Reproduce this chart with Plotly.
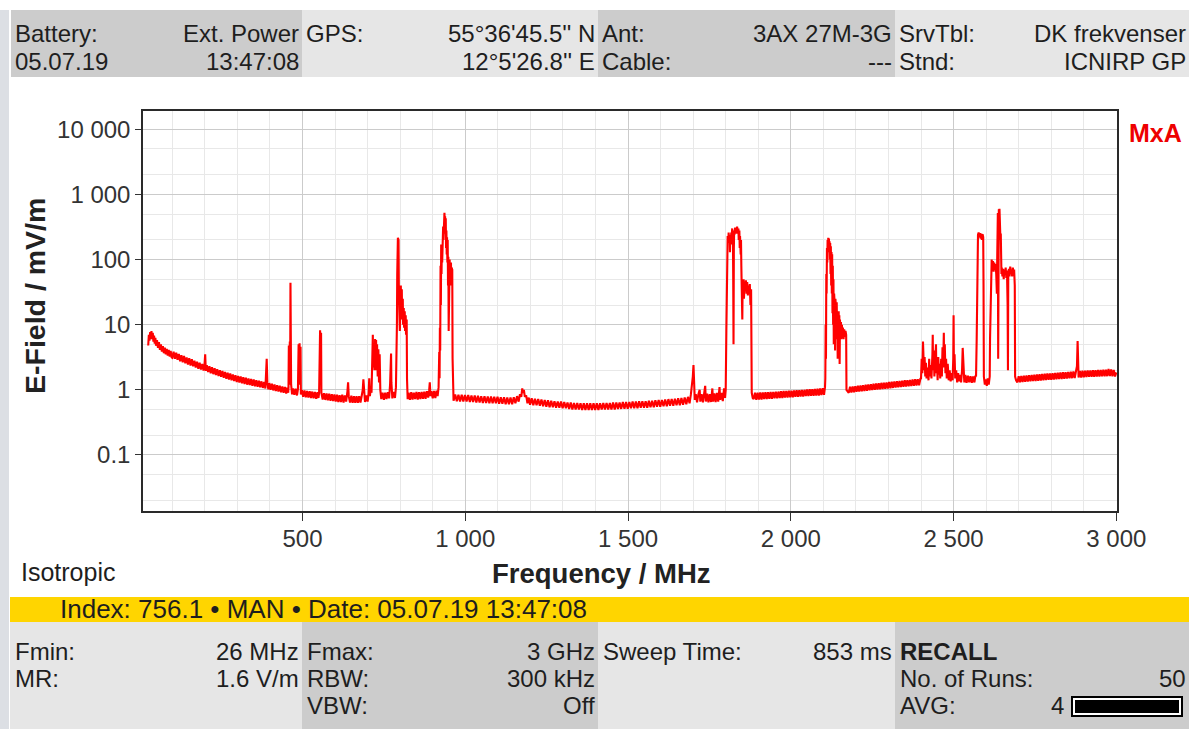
import plotly.graph_objects as go

# ---------------- data ----------------
band_low = [(26,4.8),(28,7.0),(30,5.7),(32,7.7),(34,6.0),(36,8.0),(38,6.0),(40,7.5),(42,5.5),(44,6.8),(46,5.1),(48,6.3),
            (50,4.75),(53,5.8),(56,4.4),(59,5.4),(62,4.1),(65,5.0),(68,3.85),(71,4.7),(74,3.65),(77,4.45),(80,3.5),(83,4.25),
            (86,3.35),(89,4.1),(92,3.25),(95,3.95),(98,3.15),(100,3.1),(104,3.85),(108,3.0),(112,3.7),(116,2.9),(120,3.55),
            (124,2.75),(128,3.4),(132,2.65),(136,3.3),(140,2.55),(144,3.15),(148,2.45),(152,3.05),(156,2.35),(160,2.95),
            (164,2.3),(168,2.8),(172,2.2),(176,2.7),(180,2.1),(184,2.6),(188,2.05),(192,2.5),(196,1.98),(199,2.45),(201,3.5),
            (203,1.95),(206,2.38),(210,1.88),(214,2.3),(218,1.8),(222,2.22),(226,1.74),(230,2.15),(234,1.68),(238,2.08),
            (242,1.63),(246,2.0),(250,1.58),(254,1.95),(258,1.53),(262,1.88),(266,1.48),(270,1.83),(274,1.44),(278,1.78),
            (282,1.4),(286,1.72),(290,1.36),(294,1.68),(298,1.32),(302,1.63),(306,1.29),(310,1.6),(314,1.26),(318,1.56),
            (322,1.23),(326,1.53),(330,1.2),(334,1.5),(338,1.18),(342,1.47),(346,1.15),(350,1.44),(354,1.13),(358,1.41),
            (362,1.11),(366,1.38),(370,1.09),(374,1.35),(378,1.07),(382,1.32),(386,1.05),(388,1.5),(390,3.0),(392,1.3),
            (395,1.02),(398,1.27),(402,1.0),(406,1.24),(410,0.98),(414,1.21),(418,0.96),(422,1.18),(426,0.94),(430,1.16),
            (434,0.92),(438,1.13),(442,0.9),(446,1.11),(450,0.88),(454,1.09)]

band_450_800 = [(456,0.9),(457,1.1),(458,4.8),(459,1.2),(461,5.5),(462,1.6),(463,44),(464,3.0),(465,1.2),(468,0.85),
                (471,1.05),(475,0.84),(479,1.04),(483,0.82),(486,1.02),(488,5.0),(489,1.5),(491,5.2),(492,1.2),(494,4.6),
                (495,0.85),(498,1.0),(502,0.78),(506,0.98),(510,0.77),(514,0.96),(518,0.76),(522,0.95),(526,0.75),(530,0.94),
                (534,0.74),(538,0.93),(542,0.73),(546,0.92),(549,0.75),(551,0.9),(552,7.0),(553,2.5),(554,8.2),(555,3.0),
                (556,6.5),(557,7.5),(558,0.9),(562,0.71),(566,0.89),(570,0.7),(574,0.88),(578,0.69),(582,0.87),(586,0.68),
                (590,0.86),(594,0.67),(598,0.85),(602,0.66),(606,0.84),(610,0.65),(614,0.83),(618,0.65),(622,0.84),(626,0.64),
                (630,0.82),(634,0.66),(638,0.95),(640,1.3),(642,0.8),(646,0.64),(650,0.81),(654,0.63),(658,0.8),(662,0.63),
                (666,0.8),(670,0.63),(674,0.8),(678,0.64),(682,0.82),(685,1.0),(687,1.45),(689,0.8),(692,0.65),(696,0.82),
                (700,0.66),(703,0.88),(705,1.5),(707,0.8),(710,1.1),(712,0.9),(714,3.0),(716,7.0),(717,2.2),(719,4.5),
                (721,2.0),(723,6.0),(724,2.5),(726,5.8),(727,2.0),(729,5.0),(731,1.6),(733,4.2),(735,1.3),(737,3.5),(739,1.0),
                (742,0.72),(746,0.9),(750,0.7),(754,0.9),(758,0.72),(762,0.92),(766,0.74),(769,1.2),(771,3.3),(772,3.6),
                (773,1.3),(776,0.74),(780,0.93),(784,0.75),(787,1.1),(789,3.0)]

band_lte800 = [(790,10),(791,60),(793,215),(794,120),(795,200),(796,30),(797,12),(798,15),(799,8),(801,20),(802,40),(803,14),
               (805,35),(806,12),(808,25),(809,10),(811,18),(812,9),(814,16),(815,8),(817,14),(818,7),(820,12),(821,1.5),
               (823,0.72),(826,0.9),(830,0.7),(834,0.92),(838,0.71),(842,0.9),(846,0.72),(850,0.93),(854,0.71),(858,0.92),
               (862,0.72),(866,0.93),(870,0.73),(874,0.94),(878,0.73),(882,0.95),(886,0.76),(889,0.98),(891,1.3),(893,0.8),
               (896,0.95),(900,0.74),(904,0.96),(908,0.75),(912,0.97),(915,0.8),(918,1.1)]

band_gsm900 = [(920,3.8),(921,1.5),(922,9),(923,4),(924,80),(925,20),(926,170),(927,60),(928,150),(929,90),(930,180),
               (931,110),(932,320),(933,200),(934,480),(935,300),(936,520),(937,380),(938,460),(939,250),(940,430),(941,150),
               (942,280),(943,120),(944,220),(945,90),(946,200),(947,40),(948,110),(949,8),(950,90),(951,60),(952,100),
               (953,45),(954,85),(955,50),(956,90),(957,40),(958,75),(959,55),(960,70),(961,3),(962,0.9)]

band_mid = [(964,0.68),(969,0.85),(974,0.67),(979,0.84),(984,0.66),(989,0.84),(994,0.66),(999,0.83),(1004,0.66),(1009,0.83),
            (1014,0.65),(1019,0.82),(1024,0.65),(1029,0.82),(1034,0.64),(1039,0.81),(1044,0.64),(1049,0.8),(1054,0.63),
            (1059,0.8),(1064,0.63),(1069,0.79),(1074,0.62),(1079,0.79),(1084,0.62),(1089,0.78),(1094,0.62),(1099,0.78),
            (1104,0.61),(1109,0.77),(1114,0.61),(1119,0.77),(1124,0.6),(1129,0.76),(1134,0.6),(1139,0.76),(1144,0.6),
            (1149,0.77),(1154,0.62),(1159,0.8),(1164,0.66),(1168,0.86),(1172,0.78),(1175,1.05),(1177,0.9),(1180,1.0),
            (1183,0.78),(1187,0.82),(1191,0.62),(1195,0.76),(1199,0.59),(1204,0.74),(1209,0.58),(1214,0.73),(1219,0.58),
            (1224,0.72),(1229,0.57),(1234,0.71),(1239,0.56),(1244,0.7),(1249,0.55),(1254,0.69),(1259,0.54),(1264,0.68),
            (1269,0.54),(1274,0.67),(1279,0.53),(1284,0.66),(1289,0.53),(1294,0.66),(1299,0.52),(1304,0.65),(1309,0.52),
            (1314,0.64),(1319,0.51),(1324,0.64),(1329,0.5),(1334,0.63),(1339,0.5),(1344,0.63),(1349,0.5),(1354,0.62),
            (1359,0.49),(1364,0.62),(1369,0.49),(1374,0.62),(1379,0.49),(1384,0.62),(1389,0.49),(1394,0.62),(1399,0.49),
            (1404,0.62),(1409,0.49),(1414,0.62),(1419,0.5),(1424,0.63),(1429,0.5),(1434,0.63),(1439,0.5),(1444,0.63),
            (1449,0.5),(1454,0.64),(1459,0.5),(1464,0.64),(1469,0.51),(1474,0.64),(1479,0.51),(1484,0.65),(1489,0.51),
            (1494,0.65),(1499,0.51),(1504,0.65),(1509,0.52),(1514,0.66),(1519,0.52),(1524,0.66),(1529,0.52),(1534,0.67),
            (1539,0.53),(1544,0.67),(1549,0.53),(1554,0.67),(1559,0.53),(1564,0.68),(1569,0.54),(1574,0.68),(1579,0.54),
            (1584,0.69),(1589,0.55),(1594,0.7),(1599,0.55),(1604,0.7),(1609,0.56),(1614,0.71),(1619,0.56),(1624,0.72),
            (1629,0.57),(1634,0.72),(1639,0.57),(1644,0.73),(1649,0.58),(1654,0.74),(1659,0.58),(1664,0.75),(1669,0.59),
            (1674,0.76),(1679,0.6),(1684,0.78),(1689,0.62),(1693,0.85),(1696,1.1),(1699,1.6),(1701,2.4),(1703,1.2),
            (1705,0.7),(1708,0.86),(1712,0.64),(1716,0.85),(1720,1.0),(1722,0.66),(1726,0.86),(1730,0.64),(1734,0.95),
            (1737,1.15),(1739,0.66),(1743,0.87),(1747,0.64),(1751,0.86),(1755,0.65),(1759,1.05),(1761,0.66),(1765,0.88),
            (1769,0.65),(1773,0.9),(1777,0.66),(1781,1.1),(1783,0.7),(1787,0.9),(1791,0.67),(1795,1.05),(1798,0.75)]

band_dcs1800 = [(1800,1.0),(1802,8),(1803,40),(1804,12),(1805,150),(1806,230),(1808,180),(1809,260),(1810,200),(1812,240),
                (1813,130),(1814,220),(1816,170),(1817,260),(1818,220),(1820,300),(1821,250),(1822,280),(1823,60),(1824,5),
                (1825,150),(1826,280),(1827,240),(1829,310),(1830,260),(1832,300),(1834,250),(1835,320),(1837,270),(1839,300),
                (1840,200),(1842,280),(1843,150),(1844,230),(1846,120),(1847,200),(1848,80),(1849,15),(1850,30),(1851,12),
                (1852,45),(1853,30),(1855,50),(1856,25),(1858,42),(1860,35),(1862,48),(1864,30),(1866,45),(1868,28),(1870,40),
                (1872,32),(1874,42),(1876,20),(1878,35),(1879,10),(1880,0.9),(1883,0.75)]

band_2000 = [(1886,0.72),(1890,0.9),(1894,0.7),(1898,0.9),(1902,0.71),(1906,0.91),(1910,0.71),(1914,0.91),(1918,0.72),
             (1922,0.92),(1926,0.72),(1930,0.92),(1934,0.73),(1938,0.93),(1942,0.73),(1946,0.93),(1950,0.74),(1954,0.94),
             (1958,0.74),(1962,0.94),(1966,0.75),(1970,0.95),(1974,0.75),(1978,0.96),(1982,0.76),(1986,0.96),(1990,0.76),
             (1994,0.97),(1998,0.77),(2002,0.97),(2006,0.77),(2010,0.98),(2014,0.78),(2018,0.99),(2022,0.78),(2026,0.99),
             (2030,0.79),(2034,1.0),(2038,0.79),(2042,1.0),(2046,0.8),(2050,1.01),(2054,0.8),(2058,1.02),(2062,0.81),
             (2066,1.02),(2070,0.81),(2074,1.03),(2078,0.82),(2082,1.04),(2086,0.82),(2090,1.05),(2094,0.83),(2098,1.06),
             (2102,0.84),(2105,1.1)]

band_umts2100 = [(2106,1.5),(2107,10),(2108,3),(2109,60),(2110,30),(2111,150),(2112,90),(2113,200),(2114,130),(2115,215),
                 (2116,160),(2117,210),(2118,140),(2119,190),(2120,100),(2121,180),(2122,60),(2123,160),(2124,40),(2125,130),
                 (2126,30),(2127,120),(2128,15),(2129,80),(2130,10),(2131,50),(2132,5),(2133,30),(2134,8),(2135,20),(2136,4),
                 (2137,25),(2138,10),(2139,18),(2140,6),(2141,22),(2142,9),(2143,15),(2144,3),(2145,12),(2146,8),(2147,16),
                 (2148,7),(2149,14),(2150,2.5),(2151,12),(2152,8),(2154,11),(2155,6),(2157,10),(2158,7),(2160,9),(2162,6),
                 (2164,8.5),(2166,6.5),(2168,8),(2170,7),(2171,1.0),(2174,0.95)]

band_2300 = [(2178,0.9),(2182,1.12),(2186,0.91),(2190,1.13),(2194,0.92),(2198,1.14),(2202,0.93),(2206,1.16),(2210,0.94),
             (2214,1.17),(2218,0.95),(2222,1.18),(2226,0.96),(2230,1.2),(2234,0.97),(2238,1.21),(2242,0.98),(2246,1.22),
             (2250,0.99),(2254,1.24),(2258,1.0),(2262,1.25),(2266,1.01),(2270,1.26),(2274,1.02),(2278,1.28),(2282,1.03),
             (2286,1.29),(2290,1.04),(2294,1.3),(2298,1.05),(2302,1.32),(2306,1.06),(2310,1.33),(2314,1.07),(2318,1.34),
             (2322,1.08),(2326,1.36),(2330,1.09),(2334,1.37),(2338,1.1),(2342,1.38),(2346,1.11),(2350,1.4),(2354,1.12),
             (2358,1.41),(2362,1.13),(2366,1.42),(2370,1.14),(2374,1.44),(2378,1.15),(2382,1.45),(2386,1.16),(2390,1.46),
             (2394,1.17),(2398,1.48)]

band_wifi = [(2400,1.5),(2402,3.0),(2404,1.8),(2406,5.5),(2407,2.5),(2408,5.0),(2409,2.0),(2411,3.2),(2413,1.6),(2415,2.6),
             (2417,1.5),(2420,2.2),(2423,1.4),(2425,3.0),(2427,1.6),(2430,2.4),(2432,1.5),(2435,3.5),(2436,7.0),(2437,2.0),
             (2439,4.0),(2441,1.6),(2443,3.0),(2446,5.0),(2447,1.8),(2449,2.6),(2451,1.4),(2453,3.2),(2455,1.7),(2457,2.5),
             (2459,1.5),(2462,3.0),(2464,1.6),(2466,4.5),(2468,2.2),(2470,7.5),(2471,2.5),(2473,5.0),(2475,1.8),(2477,3.0),
             (2479,1.5),(2482,2.5),(2485,1.4),(2488,2.0),(2491,1.35),(2494,1.8),(2497,1.4),(2499,3.0),(2500,14),(2501,2.0),
             (2503,3.5),(2505,1.5),(2508,2.0),(2511,1.3),(2514,1.8),(2517,1.35),(2520,1.7),(2523,1.3),(2526,2.0),(2528,4.4),
             (2530,1.8),(2533,1.3),(2536,1.7),(2540,1.28),(2544,1.65),(2548,1.3),(2552,1.62),(2556,1.28),(2560,1.6),
             (2564,1.3),(2567,1.65)]

band_lte2600 = [(2569,1.6),(2571,6),(2572,18),(2573,60),(2574,180),(2575,240),(2577,260),(2579,220),(2581,255),(2583,210),
                (2585,250),(2587,200),(2589,245),(2591,220),(2592,40),(2593,1.6),(2596,1.2),(2599,1.45),(2602,1.15),
                (2605,1.5),(2608,1.2),(2611,1.6),(2612,6),(2613,12),(2614,40),(2615,80),(2617,100),(2619,75),(2621,95),
                (2623,65),(2625,90),(2627,70),(2629,85),(2631,60),(2633,30),(2634,100),(2635,300),(2636,520),(2637,3),
                (2638,400),(2639,590),(2640,450),(2641,600),(2642,350),(2643,520),(2644,200),(2645,250),(2646,100),
                (2647,60),(2648,75),(2650,55),(2652,72),(2654,50),(2656,70),(2658,58),(2660,75),(2662,52),(2664,68),
                (2666,20),(2667,2.0),(2668,60),(2670,72),(2672,55),(2674,78),(2676,60),(2678,70),(2680,55),(2682,75),
                (2684,62),(2686,70),(2688,40),(2689,1.6),(2692,1.4)]

band_high = [(2696,1.3),(2700,1.62),(2704,1.31),(2708,1.63),(2712,1.32),(2716,1.65),(2720,1.33),(2724,1.66),(2728,1.34),
             (2732,1.68),(2736,1.35),(2740,1.69),(2744,1.36),(2748,1.7),(2752,1.37),(2756,1.72),(2760,1.38),(2764,1.73),
             (2768,1.39),(2772,1.75),(2776,1.4),(2780,1.76),(2784,1.41),(2788,1.78),(2792,1.42),(2796,1.79),(2800,1.43),
             (2804,1.8),(2808,1.44),(2812,1.82),(2816,1.45),(2820,1.83),(2824,1.46),(2828,1.85),(2832,1.47),(2836,1.86),
             (2840,1.48),(2844,1.87),(2848,1.49),(2852,1.88),(2856,1.5),(2860,1.9),(2864,1.51),(2868,1.91),(2872,1.52),
             (2876,1.93),(2879,2.3),(2881,5.6),(2882,2.6),(2884,1.55),(2888,1.95),(2892,1.55),(2896,1.96),(2900,1.56),
             (2904,1.97),(2908,1.57),(2912,1.98),(2916,1.58),(2920,1.99),(2924,1.58),(2928,2.0),(2932,1.59),(2936,2.0),
             (2940,1.6),(2944,2.01),(2948,1.6),(2952,2.02),(2956,1.61),(2960,2.03),(2964,1.61),(2968,2.04),(2972,1.62),
             (2976,2.1),(2980,1.63),(2984,2.05),(2988,1.62),(2992,2.02),(2996,1.6),(3000,1.85)]

x_tickvals = [500, 1000, 1500, 2000, 2500, 3000]
x_ticktext = ["500", "1 000", "1 500", "2 000", "2 500", "3 000"]
y_tickvals = [0.1, 1, 10, 100, 1000, 10000]
y_ticktext = ["0.1", "1", "10", "100", "1 000", "10 000"]

header_cells = [
    ("Battery:", "Ext. Power", "05.07.19", "13:47:08"),
    ("GPS:", "55°36'45.5'' N", "", "12°5'26.8'' E"),
    ("Ant:", "3AX 27M-3G", "Cable:", "---"),
    ("SrvTbl:", "DK frekvenser", "Stnd:", "ICNIRP GP"),
]
footer_cells = [
    [("Fmin:", "26 MHz"), ("MR:", "1.6 V/m"), ("", "")],
    [("Fmax:", "3 GHz"), ("RBW:", "300 kHz"), ("VBW:", "Off")],
    [("Sweep Time:", "853 ms"), ("", ""), ("", "")],
    [("RECALL", ""), ("No. of Runs:", "50"), ("AVG:", "4")],
]
status_text = "Index: 756.1 • MAN • Date: 05.07.19 13:47:08"

# ---------------- figure ----------------
W, H = 1189, 729
FONT = "Liberation Sans, Arial, sans-serif"
DARK = "#cccccc"
LIGHT = "#e6e6e6"
TXT = 24

segments = [band_low, band_450_800, band_lte800, band_gsm900, band_mid, band_dcs1800,
            band_2000, band_umts2100, band_2300, band_wifi, band_lte2600, band_high]
freq = [p[0] for s in segments for p in s]
efield = [p[1] for s in segments for p in s]

fig = go.Figure()
fig.add_trace(go.Scatter(x=freq, y=efield, mode="lines",
                         line=dict(color="#ff0000", width=2.1), hoverinfo="skip"))

def px(x):
    return x / W

def py(y):
    return 1 - y / H

shapes = []
annotations = []

def rect(x0, y0, x1, y1, fill):
    shapes.append(dict(type="rect", xref="paper", yref="paper", x0=px(x0), x1=px(x1),
                       y0=py(y1), y1=py(y0), fillcolor=fill,
                       line=dict(width=0), layer="below"))

def txt(x, y, s, anchor="left", size=TXT, bold=False, color="#1e1e1e"):
    if bold:
        s = "<b>" + s + "</b>"
    annotations.append(dict(x=px(x), y=py(y), xref="paper", yref="paper", text=s, showarrow=False,
                            xanchor=anchor, yanchor="middle",
                            font=dict(family=FONT, size=size, color=color)))

# left strip
rect(0, 10, 9, 729, "#dcdfe4")

# header
col_x = [11, 302, 598, 895, 1189]
col_fill = [DARK, LIGHT, DARK, LIGHT]
for i, (l1, r1, l2, r2) in enumerate(header_cells):
    x0, x1 = col_x[i], col_x[i + 1]
    rect(x0, 10, x1, 77, col_fill[i])
    txt(x0 + 2, 33, l1)
    txt(x1 - 1, 33, r1, anchor="right")
    txt(x0 + 2, 61, l2)
    txt(x1 - 1, 61, r2, anchor="right")

# status bar
rect(10, 597, 1189, 622, "#ffd500")
txt(589, 609, status_text, anchor="right", size=26)

# footer
fcol_x = [10, 302, 598, 895, 1189]
fcol_fill = [LIGHT, DARK, LIGHT, DARK]
row_y = [651, 678, 705]
for i, cells in enumerate(footer_cells):
    x0, x1 = fcol_x[i], fcol_x[i + 1]
    rect(x0, 622, x1, 729, fcol_fill[i])
    for j, (lab, val) in enumerate(cells):
        if lab == "RECALL":
            txt(x0 + 3, row_y[j], lab, bold=True)
            continue
        if lab:
            txt(x0 + 3, row_y[j], lab)
        if val:
            xr = x1 - 1
            if lab == "AVG:":
                xr = 1066
            txt(xr, row_y[j], val, anchor="right")

# AVG bar
rect(1071, 696, 1183, 717, "#000000")
rect(1073, 698, 1181, 715, "#ffffff")
rect(1075, 700, 1179, 713, "#000000")

# chart texts
txt(35, 296, "E-Field / mV/m", anchor="center", size=28.5, bold=True, color="#222222")
annotations[-1]["textangle"] = -90
txt(601, 573, "Frequency / MHz", anchor="center", size=27.5, bold=True, color="#222222")
txt(19, 572, "Isotropic", size=25)
txt(1127, 133, "MxA", size=25, bold=True, color="#ee0000")

x_minor = [v for v in range(100, 3000, 100) if v % 500 != 0]
y_minor = [0.02, 0.05, 0.2, 0.5, 2, 5, 20, 50, 200, 500, 2000, 5000]

fig.update_layout(
    autosize=True, height=H,
    margin=dict(l=0, r=0, t=0, b=0, autoexpand=False),
    paper_bgcolor="white", plot_bgcolor="white",
    showlegend=False,
    shapes=shapes, annotations=annotations,
    xaxis=dict(domain=[143 / W, 1117 / W], range=[10, 3002],
               tickmode="array", tickvals=x_tickvals, ticktext=x_ticktext,
               ticks="outside", ticklen=8, tickcolor="#333", tickwidth=1,
               showline=True, mirror=True, linecolor="#2a2a2a", linewidth=1.5,
               showgrid=True, gridcolor="#cbcbcb", gridwidth=1, zeroline=False,
               minor=dict(tickvals=x_minor, showgrid=True, gridcolor="#e8e8e8", gridwidth=1, ticks=""),
               tickfont=dict(family=FONT, size=24, color="#333333"), ticklabelstandoff=-3),
    yaxis=dict(domain=[py(511), py(111)], type="log", range=[-1.86, 4.28],
               tickmode="array", tickvals=y_tickvals, ticktext=y_ticktext,
               ticks="outside", ticklen=6, tickcolor="#333", tickwidth=1,
               showline=True, mirror=True, linecolor="#2a2a2a", linewidth=1.5,
               showgrid=True, gridcolor="#cbcbcb", gridwidth=1, zeroline=False,
               minor=dict(tickvals=y_minor, showgrid=True, gridcolor="#e8e8e8", gridwidth=1, ticks=""),
               tickfont=dict(family=FONT, size=24, color="#333333")),
)

post = (
    "document.body.style.margin='0';"
    "document.body.style.overflow='hidden';"
    "var gd=document.getElementById('{plot_id}');"
    "Plotly.relayout(gd,{width:document.documentElement.clientWidth,height:%d});" % H
)

fig.write_html("out.html",
               config={"displayModeBar": False, "responsive": True},
               default_width="100%", default_height="%dpx" % H,
               post_script=post)
